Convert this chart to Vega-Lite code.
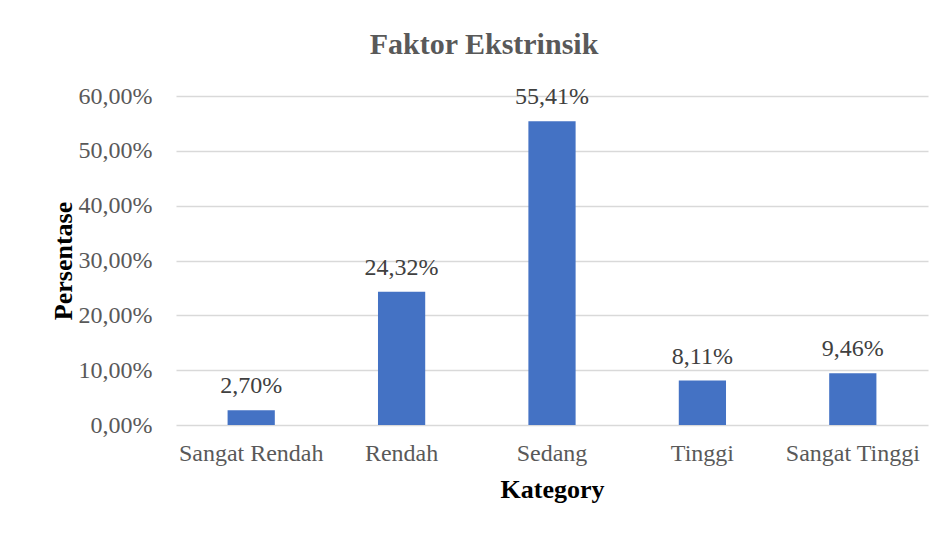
{
  "$schema": "https://vega.github.io/schema/vega-lite/v6.json",
  "width": 752,
  "height": 329,
  "autosize": {"type": "none"},
  "padding": {"left": 176, "top": 96, "right": 23, "bottom": 109},
  "background": "white",
  "title": {
    "text": "Faktor Ekstrinsik",
    "font": "Liberation Serif",
    "fontSize": 30,
    "fontWeight": "bold",
    "color": "#595959",
    "anchor": "middle",
    "dx": -68,
    "offset": 24
  },
  "config": {
    "locale": {
      "number": {"decimal": ",", "thousands": ".", "grouping": [3], "currency": ["", " €"]}
    },
    "view": {"stroke": null},
    "font": "Liberation Serif"
  },
  "data": {
    "values": [
      {"Kategori": "Sangat Rendah", "Persentase": 0.027},
      {"Kategori": "Rendah", "Persentase": 0.2432},
      {"Kategori": "Sedang", "Persentase": 0.5541},
      {"Kategori": "Tinggi", "Persentase": 0.0811},
      {"Kategori": "Sangat Tinggi", "Persentase": 0.0946}
    ]
  },
  "encoding": {
    "x": {
      "field": "Kategori",
      "type": "nominal",
      "sort": null,
      "scale": {"paddingInner": 0.686, "paddingOuter": 0.343},
      "axis": {
        "title": "Kategory",
        "titleFont": "Liberation Serif",
        "titleFontSize": 26,
        "titleFontWeight": "bold",
        "titleColor": "#000000",
        "titlePadding": 11,
        "labelAngle": 0,
        "labelFont": "Liberation Serif",
        "labelFontSize": 24,
        "labelColor": "#595959",
        "labelPadding": 16,
        "domain": false,
        "ticks": false,
        "grid": false
      }
    },
    "y": {
      "field": "Persentase",
      "type": "quantitative",
      "scale": {"domain": [0, 0.6]},
      "axis": {
        "title": "Persentase",
        "titleFont": "Liberation Serif",
        "titleFontSize": 26,
        "titleFontWeight": "bold",
        "titleColor": "#000000",
        "titlePadding": 2,
        "format": ".2%",
        "values": [0, 0.1, 0.2, 0.3, 0.4, 0.5, 0.6],
        "labelFont": "Liberation Serif",
        "labelFontSize": 24,
        "labelColor": "#595959",
        "labelPadding": 24,
        "domain": false,
        "ticks": false,
        "grid": true,
        "gridColor": "#d9d9d9",
        "gridWidth": 1.5
      }
    }
  },
  "layer": [
    {"mark": {"type": "bar", "color": "#4472C4"}},
    {
      "mark": {"type": "text", "dy": -17, "fontSize": 24, "font": "Liberation Serif", "color": "#404040", "baseline": "alphabetic"},
      "encoding": {"text": {"field": "Persentase", "type": "quantitative", "format": ".2%"}}
    }
  ]
}
